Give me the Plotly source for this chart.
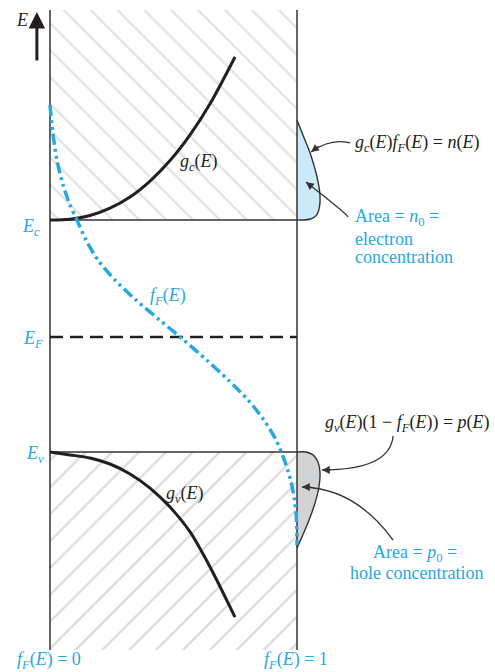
import plotly.graph_objects as go

# Energy levels (eV, valence band edge as reference)
E_v = 0.0
E_F = 0.555
E_c = 1.12
E_top = 2.134
E_bottom = -0.956

# Fermi-Dirac probability f_F(E)
fF_prob = [0.000, 0.010, 0.028, 0.053, 0.081, 0.109, 0.146, 0.194, 0.263, 0.348, 0.444,
           0.541, 0.634, 0.721, 0.802, 0.866, 0.915, 0.949, 0.974, 0.990, 0.998, 1.000]
fF_energy = [1.675, 1.554, 1.410, 1.289, 1.192, 1.120, 1.023, 0.927, 0.830, 0.734, 0.637,
             0.541, 0.444, 0.348, 0.251, 0.154, 0.058, -0.039, -0.135, -0.232, -0.328, -0.449]

# Conduction-band density of states g_c(E)
gc_val = [0.000, 0.081, 0.162, 0.243, 0.324, 0.405, 0.486, 0.567, 0.648, 0.749]
gc_energy = [1.120, 1.124, 1.142, 1.177, 1.231, 1.308, 1.407, 1.531, 1.681, 1.907]

# Valence-band density of states g_v(E)
gv_val = [0.000, 0.081, 0.162, 0.243, 0.324, 0.405, 0.486, 0.567, 0.648, 0.749]
gv_energy = [0.000, -0.014, -0.029, -0.058, -0.106, -0.174, -0.266, -0.386, -0.555, -0.797]

# Electron distribution n(E) = g_c f_F (offset from f_F = 1)
n_val = [1.000, 1.024, 1.053, 1.081, 1.093, 1.091, 1.080, 1.055, 1.020, 1.000]
n_energy = [1.603, 1.530, 1.443, 1.328, 1.241, 1.183, 1.145, 1.125, 1.120, 1.120]

# Hole distribution p(E) = g_v (1 - f_F) (offset from f_F = 1)
p_val = [1.000, 1.036, 1.065, 1.085, 1.093, 1.089, 1.073, 1.049, 1.020, 1.000]
p_energy = [0.000, 0.000, -0.014, -0.048, -0.097, -0.169, -0.246, -0.328, -0.410, -0.463]

BLUE = "#27a8e0"
INK = "#231f20"
FONT = "'Liberation Serif', 'Times New Roman', 'DejaVu Serif', serif"

fig = go.Figure()

# Hatched allowed-band regions
fig.add_trace(go.Scatter(
    x=[0, 1, 1, 0, 0], y=[E_c, E_c, E_top, E_top, E_c],
    mode="lines", line=dict(width=0), fill="toself", fillcolor="rgba(0,0,0,0)",
    fillpattern=dict(shape="\\", size=19, solidity=0.12, fgcolor="#c4c4c4", bgcolor="white"),
    hoverinfo="skip", showlegend=False))
fig.add_trace(go.Scatter(
    x=[0, 1, 1, 0, 0], y=[E_bottom, E_bottom, E_v, E_v, E_bottom],
    mode="lines", line=dict(width=0), fill="toself", fillcolor="rgba(0,0,0,0)",
    fillpattern=dict(shape="/", size=19, solidity=0.12, fgcolor="#b4b4b4", bgcolor="white"),
    hoverinfo="skip", showlegend=False))

# Carrier distributions
fig.add_trace(go.Scatter(
    x=n_val, y=n_energy, mode="lines", line=dict(color="#333333", width=1.4, shape="spline"),
    fill="toself", fillcolor="#cbe9f8", hoverinfo="skip", showlegend=False))
fig.add_trace(go.Scatter(
    x=p_val, y=p_energy, mode="lines", line=dict(color="#333333", width=1.4, shape="spline"),
    fill="toself", fillcolor="#d2d3d4", hoverinfo="skip", showlegend=False))

# Frame: f_F = 0 and f_F = 1 verticals, band edges, Fermi level
for xv in (0, 1):
    fig.add_trace(go.Scatter(x=[xv, xv], y=[E_bottom, E_top], mode="lines",
                             line=dict(color="#333333", width=1.5),
                             hoverinfo="skip", showlegend=False))
for ev in (E_c, E_v):
    fig.add_trace(go.Scatter(x=[0, 1], y=[ev, ev], mode="lines",
                             line=dict(color="#333333", width=1.5),
                             hoverinfo="skip", showlegend=False))
fig.add_trace(go.Scatter(x=[0, 1], y=[E_F, E_F], mode="lines",
                         line=dict(color=INK, width=2.6, dash="13px,7px"),
                         hoverinfo="skip", showlegend=False))

# Density of states curves
fig.add_trace(go.Scatter(x=gc_val, y=gc_energy, mode="lines",
                         line=dict(color=INK, width=3, shape="spline", smoothing=0.8),
                         hoverinfo="skip", showlegend=False))
fig.add_trace(go.Scatter(x=gv_val, y=gv_energy, mode="lines",
                         line=dict(color=INK, width=3, shape="spline", smoothing=0.8),
                         hoverinfo="skip", showlegend=False))

# Fermi-Dirac function
fig.add_trace(go.Scatter(x=fF_prob, y=fF_energy, mode="lines",
                         line=dict(color=BLUE, width=3.5, shape="spline", smoothing=0.8,
                                   dash="11px,4px,3px,4px,3px,4px"),
                         hoverinfo="skip", showlegend=False))

annotations = []


def label(text, x, y, color=INK, size=18, xanchor="center"):
    annotations.append(dict(text=text, x=x, y=y, xref="x", yref="y", showarrow=False,
                            xanchor=xanchor, yanchor="middle",
                            font=dict(family=FONT, size=size, color=color)))


# Energy axis arrow
annotations.append(dict(x=-0.053, y=2.124, ax=-0.053, ay=1.883, xref="x", yref="y",
                        axref="x", ayref="y", text="", showarrow=True,
                        arrowhead=2, arrowsize=1.1, arrowwidth=3, arrowcolor=INK))
label("<i>E</i>", -0.113, 2.086, INK, 18)

label("<i>E<sub>c</sub></i>", -0.077, 1.085, BLUE)
label("<i>E<sub>F</sub></i>", -0.069, 0.545, BLUE)
label("<i>E<sub>v</sub></i>", -0.061, -0.010, BLUE)

label("<i>g<sub>c</sub></i>(<i>E</i>)", 0.603, 1.400)
label("<i>f<sub>F</sub></i>(<i>E</i>)", 0.478, 0.752, BLUE)
label("<i>g<sub>v</sub></i>(<i>E</i>)", 0.547, -0.205)

label("<i>g<sub>c</sub></i>(<i>E</i>)<i>f<sub>F</sub></i>(<i>E</i>) = <i>n</i>(<i>E</i>)",
      1.227, 1.488, INK, 18, "left")
label("Area = <i>n</i><sub>0</sub> =", 1.227, 1.130, BLUE, 18, "left")
label("electron", 1.227, 1.026, BLUE, 18, "left")
label("concentration", 1.227, 0.940, BLUE, 18, "left")

label("<i>g<sub>v</sub></i>(<i>E</i>)(1 − <i>f<sub>F</sub></i>(<i>E</i>)) = <i>p</i>(<i>E</i>)",
      1.449, 0.140, INK, 18)
label("Area = <i>p</i><sub>0</sub> =", 1.478, -0.488, BLUE)
label("hole concentration", 1.482, -0.582, BLUE)

label("<i>f<sub>F</sub></i>(<i>E</i>) = 0", -0.004, -1.008, BLUE)
label("<i>f<sub>F</sub></i>(<i>E</i>) = 1", 0.996, -1.008, BLUE)

# Curved leader arrows: (start, control, head, arrowhead pixel offset)
leaders = [
    ((1.215, 1.492), (1.134, 1.516), (1.057, 1.448), (9, -7)),
    ((1.207, 1.135), (1.182, 1.168), (1.036, 1.303), (8, 6)),
    ((1.389, 0.077), (1.377, -0.087), (1.101, -0.087), (10, 0)),
    ((1.389, -0.425), (1.235, -0.174), (1.020, -0.169), (10, 0)),
]
shapes = []
for (x0, y0), (cx, cy), (x1, y1), (hx, hy) in leaders:
    shapes.append(dict(type="path", xref="x", yref="y",
                       path=f"M {x0},{y0} Q {cx},{cy} {x1},{y1}",
                       line=dict(color="#333333", width=1.3)))
    annotations.append(dict(x=x1, y=y1, ax=hx, ay=hy, xref="x", yref="y", text="",
                            showarrow=True, arrowhead=2, arrowsize=1.2, arrowwidth=1.3,
                            arrowcolor="#333333", standoff=0))

fig.update_layout(
    width=495, height=672, autosize=False,
    margin=dict(l=0, r=0, t=0, b=0),
    paper_bgcolor="white", plot_bgcolor="white",
    xaxis=dict(range=[-0.2024, 1.8016], visible=False, fixedrange=True),
    yaxis=dict(range=[-1.0621, 2.1821], visible=False, fixedrange=True),
    annotations=annotations, shapes=shapes, showlegend=False,
)

fig.write_html("out.html", config={"displayModeBar": False})
